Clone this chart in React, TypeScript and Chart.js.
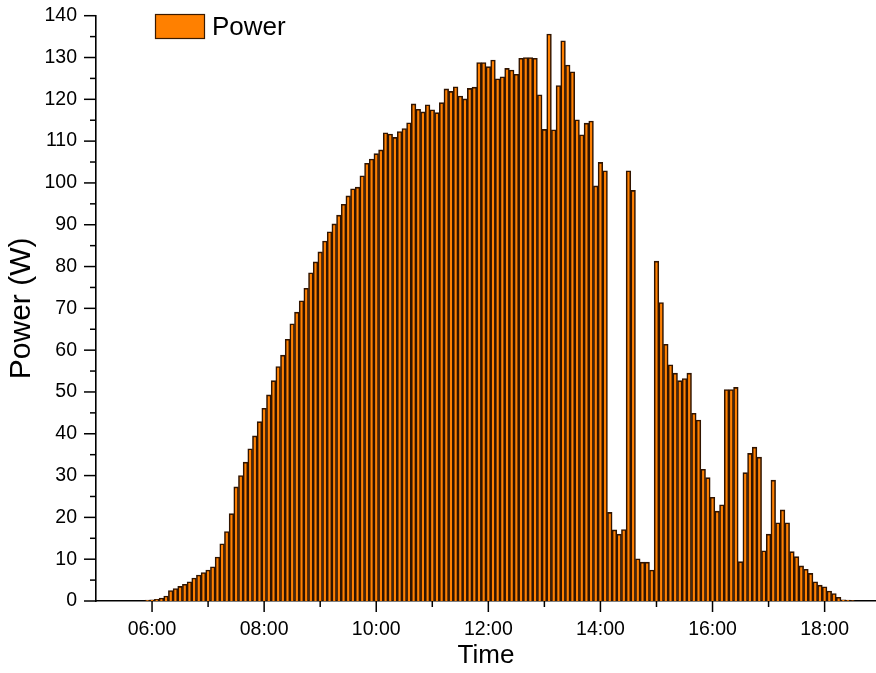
import React, { useEffect, useRef } from 'react';
import { Chart, registerables } from 'chart.js';

Chart.register(...registerables);

const FONT = "'Liberation Sans', Arial, Helvetica, sans-serif";

// Time of each 5-minute sample
const times: string[] = [
  '05:55',
  '06:00', '06:05', '06:10', '06:15', '06:20', '06:25', '06:30', '06:35', '06:40', '06:45', '06:50', '06:55',
  '07:00', '07:05', '07:10', '07:15', '07:20', '07:25', '07:30', '07:35', '07:40', '07:45', '07:50', '07:55',
  '08:00', '08:05', '08:10', '08:15', '08:20', '08:25', '08:30', '08:35', '08:40', '08:45', '08:50', '08:55',
  '09:00', '09:05', '09:10', '09:15', '09:20', '09:25', '09:30', '09:35', '09:40', '09:45', '09:50', '09:55',
  '10:00', '10:05', '10:10', '10:15', '10:20', '10:25', '10:30', '10:35', '10:40', '10:45', '10:50', '10:55',
  '11:00', '11:05', '11:10', '11:15', '11:20', '11:25', '11:30', '11:35', '11:40', '11:45', '11:50', '11:55',
  '12:00', '12:05', '12:10', '12:15', '12:20', '12:25', '12:30', '12:35', '12:40', '12:45', '12:50', '12:55',
  '13:00', '13:05', '13:10', '13:15', '13:20', '13:25', '13:30', '13:35', '13:40', '13:45', '13:50', '13:55',
  '14:00', '14:05', '14:10', '14:15', '14:20', '14:25', '14:30', '14:35', '14:40', '14:45', '14:50', '14:55',
  '15:00', '15:05', '15:10', '15:15', '15:20', '15:25', '15:30', '15:35', '15:40', '15:45', '15:50', '15:55',
  '16:00', '16:05', '16:10', '16:15', '16:20', '16:25', '16:30', '16:35', '16:40', '16:45', '16:50', '16:55',
  '17:00', '17:05', '17:10', '17:15', '17:20', '17:25', '17:30', '17:35', '17:40', '17:45', '17:50', '17:55',
  '18:00', '18:05', '18:10', '18:15', '18:20', '18:25', '18:30',
];

// Power (W) for each sample
const power: number[] = [
  0.2,
  0.3, 0.4, 0.7, 1.2, 2.5, 3.0, 3.5, 4.0, 4.6, 5.5, 6.2, 6.8,
  7.4, 8.2, 10.5, 13.7, 16.6, 20.9, 27.3, 30.0, 33.2, 36.4, 39.5, 42.9,
  46.1, 49.3, 52.7, 56.1, 58.8, 62.6, 66.3, 69.1, 71.8, 74.8, 78.5, 81.1,
  83.5, 86.1, 88.3, 90.2, 92.3, 94.9, 96.9, 98.6, 99.0, 101.7, 104.7, 105.7,
  107.0, 107.9, 112.0, 111.7, 110.9, 112.3, 113.0, 114.4, 118.9, 117.6, 117.0, 118.7,
  117.5, 116.8, 119.2, 122.5, 121.9, 123.0, 120.8, 120.1, 122.6, 122.9, 128.8, 128.8,
  127.8, 129.4, 124.9, 125.4, 127.4, 127.0, 126.0, 129.8, 130.0, 130.0, 129.8, 121.1,
  112.8, 135.6, 112.7, 123.3, 134.0, 128.2, 126.6, 115.1, 111.5, 114.3, 114.8, 99.3,
  104.9, 102.9, 21.2, 17.0, 16.0, 17.1, 102.9, 98.2, 10.1, 9.3, 9.3, 7.4,
  81.3, 71.4, 61.4, 56.5, 54.5, 52.7, 53.2, 54.5, 44.9, 43.3, 31.5, 29.5,
  24.8, 21.5, 23.0, 50.6, 50.6, 51.1, 9.4, 30.7, 35.3, 36.8, 34.4, 12.0,
  16.0, 28.9, 18.7, 21.8, 18.7, 11.8, 10.6, 8.4, 7.6, 6.6, 4.6, 3.8,
  3.4, 2.4, 1.8, 0.9, 0.3, 0.2, 0.1,
];

// Labelled x ticks (hours) and their texts
const xTickHours: number[] = [6, 8, 10, 12, 14, 16, 18];
const xTickLabels: string[] = ['06:00', '08:00', '10:00', '12:00', '14:00', '16:00', '18:00'];

const X_MIN = 5;
const X_MAX = 18 + 55 / 60;
const Y_MIN = 0;
const Y_MAX = 140;

const toHours = (s: string) => {
  const [h, m] = s.split(':').map(Number);
  return h + m / 60;
};

const axisTicksPlugin = {
  id: 'axisTicks',
  afterDraw(chart: any) {
    const { ctx, chartArea, scales } = chart;
    const x = scales.x;
    const y = scales.y;
    ctx.save();
    ctx.strokeStyle = '#000';
    ctx.lineWidth = 1.5;
    x.ticks.forEach((t: any) => {
      if (t.value <= x.min + 1e-6) return;
      const px = x.getPixelForValue(t.value);
      const major = xTickHours.includes(t.value);
      const len = major ? 11 : 6;
      ctx.beginPath();
      ctx.moveTo(px, chartArea.bottom);
      ctx.lineTo(px, chartArea.bottom + len);
      ctx.stroke();
    });
    y.ticks.forEach((t: any) => {
      const py = y.getPixelForValue(t.value);
      const len = t.value % 10 === 0 ? 12 : 6;
      ctx.beginPath();
      ctx.moveTo(chartArea.left - len, py);
      ctx.lineTo(chartArea.left, py);
      ctx.stroke();
    });
    ctx.restore();
  },
};

const legendPlugin = {
  id: 'insideLegend',
  afterDraw(chart: any) {
    const { ctx, chartArea } = chart;
    const ds = chart.data.datasets[0];
    const bx = chartArea.left + 59;
    const by = 14;
    const bw = 50;
    const bh = 25;
    ctx.save();
    ctx.fillStyle = ds.backgroundColor;
    ctx.fillRect(bx, by, bw, bh);
    ctx.strokeStyle = '#3a1a00';
    ctx.lineWidth = 1.2;
    ctx.strokeRect(bx + 0.5, by + 0.5, bw - 1, bh - 1);
    ctx.fillStyle = '#000';
    ctx.font = `26px ${FONT}`;
    ctx.textBaseline = 'middle';
    ctx.textAlign = 'left';
    ctx.fillText(ds.label, bx + bw + 7, by + bh / 2 + 1);
    ctx.restore();
  },
};

export default function App() {
  const canvasRef = useRef<HTMLCanvasElement | null>(null);

  useEffect(() => {
    const canvas = canvasRef.current;
    if (!canvas) return;
    const data = times.map((t, i) => ({ x: toHours(t), y: power[i] }));

    const chart = new Chart(canvas, {
      type: 'bar',
      data: {
        datasets: [
          {
            label: 'Power',
            data,
            backgroundColor: '#FF8000',
            borderColor: '#301400',
            borderWidth: 1.6,
            barPercentage: 1,
            categoryPercentage: 1,
            borderSkipped: 'start',
          } as any,
        ],
      },
      options: {
        animation: false,
        responsive: false,
        maintainAspectRatio: false,
        layout: { padding: { top: 15.7, right: 0, left: 0, bottom: 0 } },
        plugins: {
          legend: { display: false },
          tooltip: { enabled: false },
        },
        scales: {
          x: {
            type: 'linear',
            min: X_MIN,
            max: X_MAX,
            offset: false,
            grid: { display: false, drawTicks: false, offset: false },
            border: { display: true, color: '#000', width: 1.6 },
            ticks: {
              stepSize: 1,
              autoSkip: false,
              includeBounds: false,
              maxRotation: 0,
              minRotation: 0,
              padding: 17,
              color: '#000',
              font: { family: FONT, size: 19.5 },
              callback: (v: any) => {
                const idx = xTickHours.indexOf(Number(v));
                return idx >= 0 ? xTickLabels[idx] : '';
              },
            },
            title: {
              display: true,
              text: 'Time',
              color: '#000',
              font: { family: FONT, size: 26 },
              padding: { top: 0, bottom: 2 },
            },
            afterFit: (s: any) => {
              s.height = 72;
              s.paddingLeft = 0;
              s.paddingRight = 0;
            },
          } as any,
          y: {
            type: 'linear',
            min: Y_MIN,
            max: Y_MAX,
            grid: { display: false, drawTicks: false },
            border: { display: true, color: '#000', width: 1.6 },
            ticks: {
              stepSize: 5,
              autoSkip: false,
              padding: 19,
              color: '#000',
              font: { family: FONT, size: 19.5 },
              callback: (v: any) => (Number(v) % 10 === 0 ? String(v) : ''),
            },
            title: {
              display: true,
              text: 'Power (W)',
              color: '#000',
              font: { family: FONT, size: 30 },
              padding: { top: 4, bottom: 0 },
            },
            afterFit: (s: any) => {
              s.width = 96;
              s.paddingTop = 0;
              s.paddingBottom = 0;
            },
          } as any,
        },
      },
      plugins: [axisTicksPlugin, legendPlugin],
    });

    return () => {
      chart.destroy();
    };
  }, []);

  return (
    <div style={{ position: 'absolute', left: 0, top: 0, width: 876, height: 673, background: '#fff' }}>
      <canvas ref={canvasRef} width={876} height={673} style={{ display: 'block' }} />
    </div>
  );
}
